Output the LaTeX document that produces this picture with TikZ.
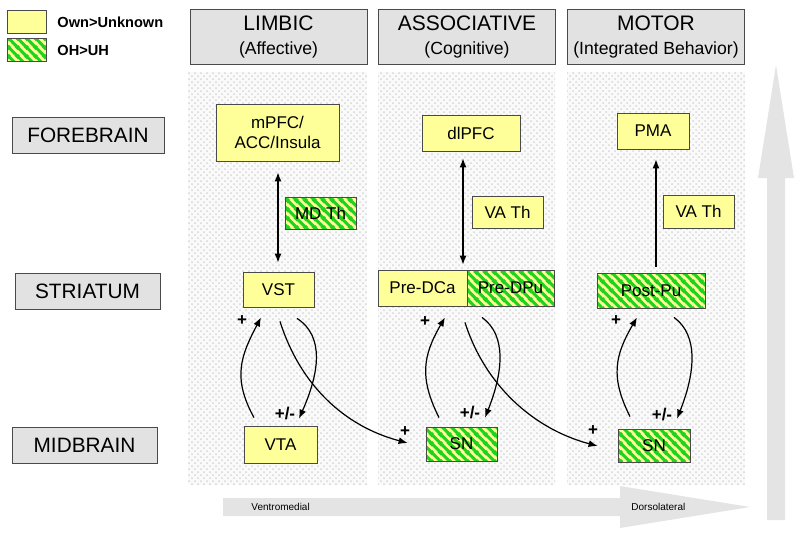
\documentclass[tikz,border=0pt]{standalone}
\usepackage{fontspec}
\setmainfont{Liberation Sans}
\usetikzlibrary{calc, patterns, arrows.meta}

\definecolor{ownyellow}{HTML}{FFFF99}
\definecolor{ohgreen}{HTML}{1ED21E}
\definecolor{headgray}{HTML}{E2E2E2}
\definecolor{bandgray}{HTML}{E4E4E4}
\definecolor{edgegray}{HTML}{4A4A4A}

% green diagonal stripes for the OH>UH boxes
\pgfdeclarepatternformonly{ohstripes}{\pgfqpoint{0pt}{0pt}}{\pgfqpoint{4.5pt}{4.5pt}}{\pgfqpoint{4.5pt}{4.5pt}}{
  \pgfsetlinewidth{1.6pt}
  \pgfpathmoveto{\pgfqpoint{-0.5pt}{5pt}}\pgfpathlineto{\pgfqpoint{5pt}{-0.5pt}}
  \pgfpathmoveto{\pgfqpoint{-1pt}{1pt}}\pgfpathlineto{\pgfqpoint{1pt}{-1pt}}
  \pgfpathmoveto{\pgfqpoint{3.5pt}{5.5pt}}\pgfpathlineto{\pgfqpoint{5.5pt}{3.5pt}}
  \pgfusepath{stroke}}

\tikzset{
  ownbox/.style={draw=edgegray, fill=ownyellow, inner sep=0pt, align=center,
    font=\fontsize{8.5}{10}\selectfont},
  ohbox/.style={draw=edgegray, preaction={fill=ownyellow}, pattern=ohstripes,
    pattern color=ohgreen, inner sep=0pt, align=center,
    font=\fontsize{8.5}{10}\selectfont},
  headbox/.style={draw=edgegray, fill=headgray, inner sep=0pt, align=center,
    minimum width=88.5pt, minimum height=27.5pt},
  levelbox/.style={draw=edgegray, fill=headgray, inner sep=0pt,
    minimum height=18pt, font=\fontsize{10.4}{12}\selectfont},
  column/.style={preaction={fill=gray!4}, pattern=crosshatch dots, pattern color=gray!32},
  sig/.style={-{Latex[length=4.5pt,width=3.5pt]}, line width=0.6pt},
  sign/.style={font=\bfseries\fontsize{8.5}{10}\selectfont, inner sep=0pt},
  legtext/.style={anchor=west, inner sep=0pt, font=\bfseries\fontsize{7.3}{9}\selectfont},
  axtext/.style={anchor=west, inner sep=0pt, font=\fontsize{5}{6}\selectfont}
}

\begin{document}
\begin{tikzpicture}[x=0.5pt, y=-0.5pt]
\useasboundingbox (0,0) rectangle (800,532);

% Dotted background columns
\path[column] (188,72) rectangle (367,485);
\path[column] (378,72) rectangle (555,485);
\path[column] (567,72) rectangle (745,485);

% Large gradient arrows
\fill[bandgray] (223,498) -- (620,498) -- (620,486) -- (750,507) -- (620,528)
  -- (620,516) -- (223,516) -- cycle;
\fill[bandgray] (767,520) -- (767,178) -- (758,178) -- (776,65) -- (794,178)
  -- (785,178) -- (785,520) -- cycle;
\node[axtext] (ventro) at (251,507) {Ventromedial};
\node[axtext] (dorso) at (631,507) {Dorsolateral};

% Legend
\node[ownbox, minimum width=19.5pt, minimum height=11.5pt] (legOwn) at (26.5,21.5) {};
\node[ohbox, minimum width=19.5pt, minimum height=11.5pt] (legOH) at (26.5,49.5) {};
\node[legtext] (legOwnText) at (57,22) {Own>Unknown};
\node[legtext] (legOHText) at (57,50) {OH>UH};

% Column headers
\node[headbox] (limbic) at (278.5,36.5)
  {{\fontsize{10.5}{13}\selectfont LIMBIC}\\{\fontsize{8.8}{11}\selectfont (Affective)}};
\node[headbox] (assoc) at (467,36.5)
  {{\fontsize{10.5}{13}\selectfont ASSOCIATIVE}\\{\fontsize{8.8}{11}\selectfont (Cognitive)}};
\node[headbox] (motor) at (656,36.5)
  {{\fontsize{10.5}{13}\selectfont MOTOR}\\{\fontsize{8.8}{11}\selectfont (Integrated Behavior)}};

% Levels
\node[levelbox, minimum width=76pt] (forebrain) at (88,135) {FOREBRAIN};
\node[levelbox, minimum width=72.5pt] (striatum) at (87.5,291) {STRIATUM};
\node[levelbox, minimum width=72.5pt] (midbrain) at (84.5,445) {MIDBRAIN};

% Limbic loop
\node[ownbox, minimum width=61.5pt, minimum height=28.5pt] (mPFC) at (277.5,132.5) {mPFC/\\ACC/Insula};
\node[ohbox, minimum width=35.5pt, minimum height=16pt] (MDTh) at (320.5,213) {MD Th};
\node[ownbox, minimum width=35.5pt, minimum height=17.5pt] (VST) at (278.5,289.5) {VST};
\node[ownbox, minimum width=36.5pt, minimum height=18.5pt] (VTA) at (280.5,444.5) {VTA};

% Associative loop
\node[ownbox, minimum width=49pt, minimum height=18pt] (dlPFC) at (471,133) {dlPFC};
\node[ownbox, minimum width=35.5pt, minimum height=16pt] (VAThB) at (507.5,212) {VA Th};
\node[ownbox, minimum width=44.5pt, minimum height=18pt] (PreDCa) at (422.5,288) {Pre-DCa};
\node[ohbox, minimum width=43.5pt, minimum height=18pt] (PreDPu) at (510.5,288) {Pre-DPu};
\node[ohbox, minimum width=35.5pt, minimum height=17pt] (SNB) at (461.5,444) {SN};

% Motor loop
\node[ownbox, minimum width=36pt, minimum height=18pt] (PMA) at (653,131) {PMA};
\node[ownbox, minimum width=35.5pt, minimum height=16.5pt] (VAThC) at (698.5,211.5) {VA Th};
\node[ohbox, minimum width=54pt, minimum height=17.5pt] (PostPu) at (651,290.5) {Post-Pu};
\node[ohbox, minimum width=36pt, minimum height=16.5pt] (SNC) at (654,445.5) {SN};

% Cortex - striatum links
\draw[sig, {Latex[length=4.5pt,width=3.5pt]}-{Latex[length=4.5pt,width=3.5pt]}]
  ($(mPFC.south)+(0.5,11)$) -- ($(VST.north)+(-0.5,-9)$);
\draw[sig, {Latex[length=4.5pt,width=3.5pt]}-{Latex[length=4.5pt,width=3.5pt]}]
  ($(dlPFC.south)+(-8,7)$) -- ($(PreDCa.north)+(40.5,-5)$);
\draw[sig] ($(PostPu.north)+(5,-6)$) -- ($(PMA.south)+(3,10)$);

% Striatum - midbrain loops
\draw[sig] ($(VTA.north)+(-26.5,-8)$) .. controls +(-22,-40) and +(-20,38) .. ($(VST.south)+(-17.5,10)$);
\draw[sig] ($(VST.south)+(18.5,11)$) .. controls +(28,18) and +(20,-45) .. ($(VTA.north)+(18.5,-7)$);
\draw[sig] ($(VST.south)+(1.5,14)$) .. controls +(20,63) and +(-64,-17) .. ($(SNB.west)+(-18,-1)$);

\draw[sig] ($(SNB.north)+(-22.5,-9)$) .. controls +(-20,-40) and +(-22,38) .. ($(PreDCa.south)+(22.5,11)$);
\draw[sig] ($(PreDPu.south)+(-28.5,11)$) .. controls +(25,18) and +(18,-45) .. ($(SNB.north)+(23.5,-9)$);
\draw[sig] ($(PreDCa.south)+(42.5,16)$) .. controls +(20,63) and +(-64,-17) .. ($(SNC.west)+(-20,0.5)$);

\draw[sig] ($(SNC.north)+(-24,-12)$) .. controls +(-20,-40) and +(-22,38) .. ($(PostPu.south)+(-14,9)$);
\draw[sig] ($(PostPu.south)+(23,9)$) .. controls +(25,18) and +(18,-45) .. ($(SNC.north)+(23,-10)$);

% Signs
\node[sign] (plusA) at (242,321) {+};
\node[sign] (pmA) at (285,414) {+/-};
\node[sign] (plusB) at (425,322) {+};
\node[sign] (pmB) at (470,413) {+/-};
\node[sign] (plusBin) at (405,432) {+};
\node[sign] (plusC) at (616,321) {+};
\node[sign] (pmC) at (662,415) {+/-};
\node[sign] (plusCin) at (593,431) {+};

\end{tikzpicture}
\end{document}
